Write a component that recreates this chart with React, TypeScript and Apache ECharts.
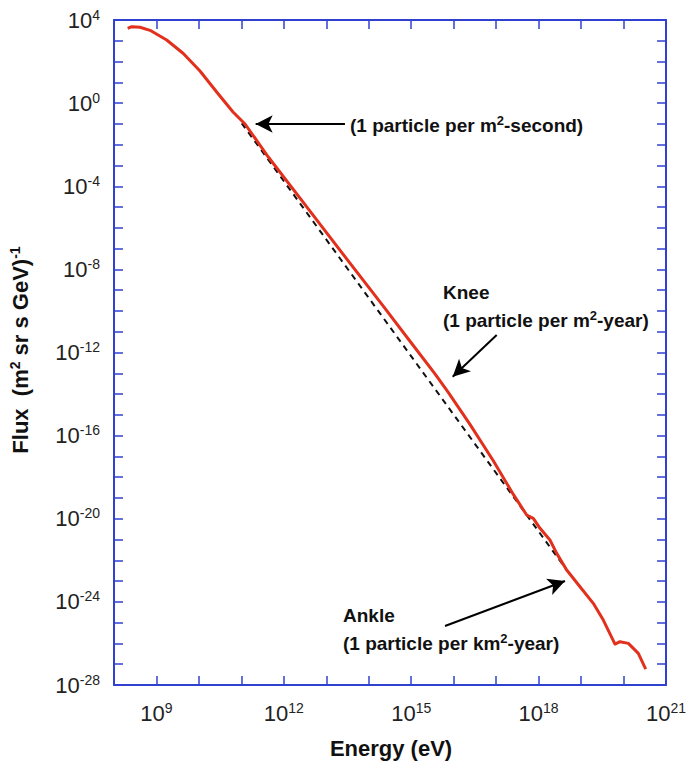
import React, { useEffect, useRef } from "react";
import * as echarts from "echarts";

// Cosmic-ray all-particle spectrum
const energyEV = [
  2.1e8, 2.61e8, 4.09e8, 7.05e8, 1.74e9, 4.29e9, 1.06e10, 2.62e10, 6.35e10, 1.22e11,
  4.31e11, 2.64e12, 3.61e13, 2.02e14, 8.53e14, 3.63e15, 7.46e15, 2.42e16, 8.57e16, 2.54e17,
  5.25e17, 7.5e17, 1.08e18, 1.85e18, 2.67e18, 4.59e18, 9.44e18, 1.94e19, 3.34e19, 6.3e19,
  8.26e19, 1.3e20, 2.23e20, 3.33e20,
];
const fluxValues = [
  3.99e3, 4.76e3, 4.46e3, 3.19e3, 1.09e3, 2.44e2, 35.2, 3.43, 0.374, 9.89e-2,
  2.55e-3, 2.1e-5, 1.98e-8, 2.13e-10, 4.45e-12, 9.31e-14, 1.21e-14, 3.46e-16, 6.19e-18, 1.48e-19,
  1.51e-20, 1.05e-20, 3.46e-21, 9.44e-22, 2.16e-22, 3.4e-23, 5.35e-24, 8.49e-25, 1.33e-25, 9.33e-27,
  1.21e-26, 1.01e-26, 3.33e-27, 5.85e-28,
];

// Dashed power-law reference line
const powerLawEnergy = [1.02e11, 4.59e18];
const powerLawFlux = [1.07e-1, 3.4e-23];

// Axis ranges (exponents) and labelled ticks
const xExpRange = [8, 21];
const yExpRange = [-28, 4];
const xLabelExponents = [9, 12, 15, 18, 21];
const yLabelExponents = [4, 0, -4, -8, -12, -16, -20, -24, -28];

// Annotation arrows (energy eV, flux) from -> to
const arrowSecondFrom = [2.75e13, 9.9e-2];
const arrowSecondTo = [2.17e11, 9.9e-2];
const arrowKneeFrom = [1.03e17, 6.93e-12];
const arrowKneeTo = [9.48e15, 6.82e-14];
const arrowAnkleFrom = [6.25e15, 6.87e-26];
const arrowAnkleTo = [4.19e18, 1.01e-23];

const FONT = "'Liberation Sans', Arial, Helvetica, sans-serif";
const BLUE = "#3040d0";

export default function App() {
  const ref = useRef<HTMLDivElement>(null);

  useEffect(() => {
    if (!ref.current) return;
    const chart = echarts.init(ref.current, null, { renderer: "svg" });
    const lg = Math.log10;
    const spectrum = energyEV.map((e, i) => [lg(e), lg(fluxValues[i])]);
    const powerLaw = powerLawEnergy.map((e, i) => [lg(e), lg(powerLawFlux[i])]);
    const arrowPairs = [
      [arrowSecondFrom, arrowSecondTo],
      [arrowKneeFrom, arrowKneeTo],
      [arrowAnkleFrom, arrowAnkleTo],
    ].map(([a, b]) => [
      { coord: [lg(a[0]), lg(a[1])] },
      { coord: [lg(b[0]), lg(b[1])] },
    ]);

    const tickRich = {
      s: { fontSize: 14, fontFamily: FONT, color: "#222", padding: [0, 0, 11, 0] },
    };

    const axisBase = {
      type: "value" as const,
      interval: 1,
      axisLine: { show: true, onZero: false, lineStyle: { color: BLUE, width: 2 } },
      axisTick: { show: true, inside: true, length: 9, lineStyle: { color: BLUE, width: 1.5 } },
      splitLine: { show: false },
    };

    const boldRich = {
      s: { fontSize: 13, fontWeight: "bold", fontFamily: FONT, fill: "#111", padding: [0, 0, 10, 0] },
    };
    const annText = (x: number, y: number, text: string) => ({
      type: "text",
      x,
      y,
      silent: true,
      style: {
        text,
        fontSize: 19,
        fontWeight: "bold",
        fontFamily: FONT,
        fill: "#111",
        align: "left",
        verticalAlign: "middle",
        rich: boldRich,
      },
    });

    chart.setOption({
      animation: false,
      backgroundColor: "#ffffff",
      grid: { left: 114, right: 23, top: 20, bottom: 91, containLabel: false },
      xAxis: [
        {
          ...axisBase,
          position: "bottom",
          min: xExpRange[0],
          max: xExpRange[1],
          axisLabel: {
            show: true,
            margin: 16,
            fontSize: 22,
            fontFamily: FONT,
            color: "#222",
            formatter: (v: number) => (xLabelExponents.includes(Math.round(v)) ? `10{s|${Math.round(v)}}` : ""),
            rich: tickRich,
          },
        },
        {
          ...axisBase,
          position: "top",
          min: xExpRange[0],
          max: xExpRange[1],
          axisLabel: { show: false },
        },
      ],
      yAxis: [
        {
          ...axisBase,
          position: "left",
          min: yExpRange[0],
          max: yExpRange[1],
          axisLabel: {
            show: true,
            margin: 14,
            fontSize: 22,
            fontFamily: FONT,
            color: "#222",
            formatter: (v: number) => (yLabelExponents.includes(Math.round(v)) ? `10{s|${Math.round(v)}}` : ""),
            rich: tickRich,
          },
        },
        {
          ...axisBase,
          position: "right",
          min: yExpRange[0],
          max: yExpRange[1],
          axisLabel: { show: false },
        },
      ],
      series: [
        {
          name: "power law",
          type: "line",
          xAxisIndex: 0,
          yAxisIndex: 0,
          data: powerLaw,
          showSymbol: false,
          symbol: "none",
          silent: true,
          lineStyle: { color: "#111", width: 2, type: [6, 5] },
          z: 3,
        },
        {
          name: "spectrum",
          type: "line",
          xAxisIndex: 0,
          yAxisIndex: 0,
          data: spectrum,
          showSymbol: false,
          symbol: "none",
          smooth: false,
          silent: true,
          lineStyle: { color: "#e2301c", width: 3, join: "round" },
          z: 4,
          markLine: {
            silent: true,
            symbol: ["none", "arrow"],
            symbolSize: [13, 17],
            label: { show: false },
            lineStyle: { color: "#000", width: 2, type: "solid" },
            emphasis: { disabled: true },
            data: arrowPairs,
          },
        },
      ],
      graphic: [
        annText(350, 125, "(1 particle per m{s|2}-second)"),
        annText(443, 292, "Knee"),
        annText(443, 320, "(1 particle per m{s|2}-year)"),
        annText(343, 615, "Ankle"),
        annText(343, 643, "(1 particle per km{s|2}-year)"),
        {
          type: "text",
          x: 391,
          y: 748,
          silent: true,
          style: {
            text: "Energy (eV)",
            fontSize: 22,
            fontWeight: "bold",
            fontFamily: FONT,
            fill: "#111",
            align: "center",
            verticalAlign: "middle",
          },
        },
        {
          type: "text",
          x: 20,
          y: 350,
          rotation: Math.PI / 2,
          silent: true,
          style: {
            text: "Flux  (m{s|2} sr s GeV){s|-1}",
            fontSize: 22,
            fontWeight: "bold",
            fontFamily: FONT,
            fill: "#111",
            align: "center",
            verticalAlign: "middle",
            rich: {
              s: { fontSize: 14, fontWeight: "bold", fontFamily: FONT, fill: "#111", padding: [0, 0, 11, 0] },
            },
          },
        },
      ],
    });

    return () => chart.dispose();
  }, []);

  return (
    <div
      ref={ref}
      style={{ position: "absolute", left: 0, top: 0, width: 689, height: 776, background: "#fff" }}
    />
  );
}
